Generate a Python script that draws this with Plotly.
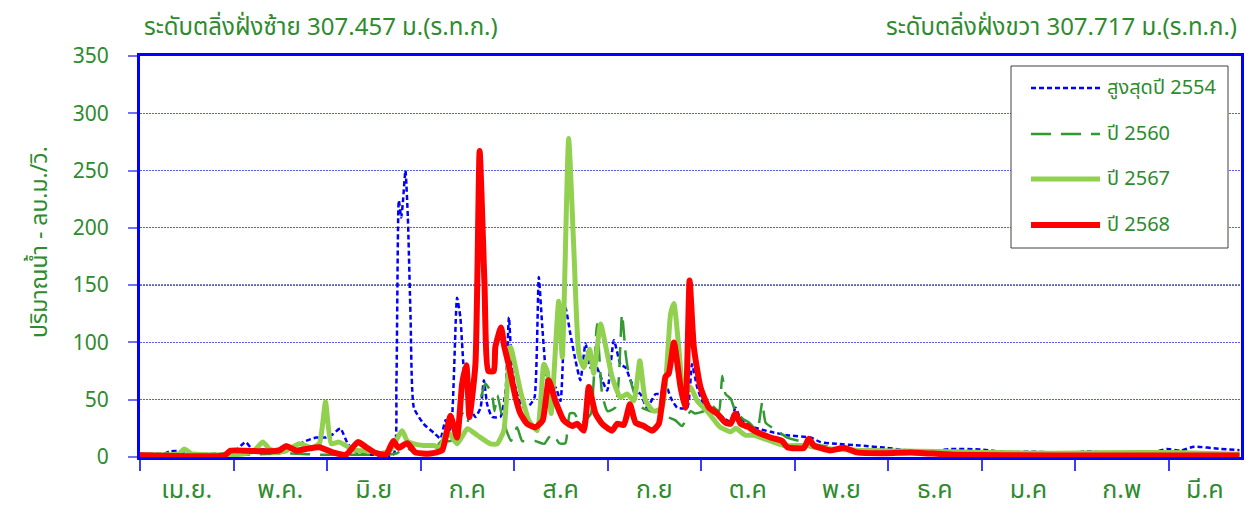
import plotly.graph_objects as go

# ---------------- data (day index from 1 April, flow m3/s) ----------------
months = ["เม.ย.", "พ.ค.", "มิ.ย", "ก.ค", "ส.ค", "ก.ย", "ต.ค", "พ.ย", "ธ.ค", "ม.ค", "ก.พ", "มี.ค"]
month_ticks = [0, 31, 62, 93, 124, 155, 186, 217, 248, 279, 310, 341]
yticks = [0, 50, 100, 150, 200, 250, 300, 350]

day_2554 = [0, 8, 10, 13, 15, 28, 31, 35, 37.5, 42, 46, 52, 55, 58.4, 61.7, 64, 66.4, 68.9, 71.7, 77, 84,
            85, 85.8, 86.6, 87.2, 88, 88.8, 89.7, 90.8, 94, 97.9, 99.6, 101.3, 103, 105.1, 106.2, 107.3, 109,
            111.2, 112.9, 114, 115.1, 116.7, 119.5, 121.2, 122.3, 123.4, 125, 127.2, 129.4, 130.8, 132.2,
            133.3, 134.4, 135.5, 137.7, 139.4, 141, 142.7, 144.4, 146, 147.7, 149.3, 150.4, 153.2, 154.9,
            157.1, 159.3, 161, 162.6, 164.3, 165.9, 168.1, 170.9, 172.5, 174.2, 175.9, 178.1, 181.4, 183,
            184.7, 186.9, 190.2, 193.5, 195.7, 197.4, 199, 203.5, 209, 214.6, 222.3, 225.6, 231, 238.8,
            247.7, 254.3, 261, 268.7, 278.7, 286.5, 297.5, 308.6, 314.1, 325, 334, 340.5, 345, 349.4,
            358.2, 364.5]
q_2554 = [3, 3, 5, 5, 3, 3, 4, 13, 6, 7, 7, 10, 14, 17, 17, 20, 25, 11.5, 4, 2, 2,
          64, 224, 209, 224, 250, 209, 122, 43, 29, 20, 16, 32, 23, 139, 122, 78, 46,
          35, 43, 67, 46, 35, 35, 58, 122, 75, 55, 43, 46, 52, 157,
          116, 78, 58, 61, 49, 131, 107, 84, 67, 99, 78, 84, 67, 58,
          102, 81, 78, 67, 58, 55, 43, 55, 55, 64, 52, 43, 43, 81,
          61, 46, 40, 34, 31, 43, 34, 26, 22, 19, 17, 13, 11.5, 10,
          8, 5.7, 4.5, 7, 6.5, 4.5, 4.5, 3.3, 5, 2.5, 3, 7, 5.5, 9,
          7, 6]

day_2560 = [0, 35, 50, 60, 80, 85, 88, 92, 97, 100, 103, 105.5, 107, 108.5, 110, 112.9, 114.5, 116.7,
            117.5, 118.5, 119.8, 121.5, 123, 125, 126.7, 131, 134, 135.5, 137, 139, 141, 142.5, 144, 146,
            148, 149.5, 151.5, 153.2, 155, 157.5, 158.7, 159.8, 161, 162, 164.3, 166.5, 169.2, 172, 174.8,
            177.5, 179.7, 182.5, 184, 186.9, 189.1, 191.9, 193, 194.1, 195.8, 197.4, 200, 202, 204.6,
            206.3, 207.4, 211.2, 214.6, 220, 225.6, 236.6, 258.7, 292, 325, 341.7, 364.5]
q_2560 = [1, 2, 3, 2, 2, 3, 8, 3, 5, 14, 14, 30, 38, 30, 46, 52, 64, 55,
          40, 54, 38, 23, 14, 26, 14, 14, 11.5, 17, 20, 12, 12, 38, 38, 29,
          33, 38, 116, 55, 40, 43, 67, 125, 90, 73, 52, 43, 40, 40, 35,
          32, 27, 40, 38, 40, 46, 40, 71, 55, 51, 40, 33, 30, 23,
          48, 30, 23, 17, 13, 10, 7, 5, 4, 3, 5, 2]

day_2567 = [0, 10, 13, 14.7, 17, 25, 31, 35, 38, 40.7, 44, 48, 52.8, 57, 59.5, 61.5, 63.4, 66, 71, 76.5,
            79.7, 83, 86.9, 88.6, 90.8, 94, 97.4, 99.6, 101.8, 105.1, 108.5, 111.8, 116.2, 118.4, 120.6,
            122.8, 126.1, 128.9, 131.7, 133.9, 135, 136.3, 138.8, 140, 142.1, 143.8, 145.5, 147.1, 149.1,
            150.4, 152.7, 154.9, 156.5, 159.3, 161.5, 163.7, 165.7, 167.6, 170.3, 173.1, 175.9, 177, 178.6,
            180.3, 182.5, 184.7, 188, 191.3, 192.4, 195.8, 197.5, 200.7, 203.5, 213.4, 221, 224.5, 236.6,
            258.7, 280.9, 303, 330.6, 341.7, 364.5]
q_2567 = [2, 2, 3, 7, 3, 2, 2, 3, 6, 13, 4, 5, 11.5, 8, 12, 48, 11.5, 13, 6, 5,
          3, 6, 23, 14, 11.5, 10, 10, 8.5, 23, 11.5, 24.6, 19, 11.5, 11.5, 23,
          96, 58, 32, 23, 81, 75, 38, 136, 87, 278, 183, 90, 78, 94,
          73, 116, 90, 70, 52, 55, 49, 84, 49, 40, 43, 125, 134, 96,
          55, 61, 49, 40, 29, 26, 22, 25, 19, 19, 10, 10, 8, 6,
          5, 4, 3.3, 4, 4, 2.5]

day_2568 = [0, 28, 30, 40, 46, 48.4, 51.8, 55, 59.5, 63.9, 68.3, 72.2, 75, 77.7, 81.6, 84, 85.7, 88.6, 91.3,
            96.3, 100.2, 102.9, 105.1, 106.8, 108.2, 109.2, 111.2, 112.6, 114.2, 115.5, 117.3, 117.8, 119.7,
            120.8, 122.2, 124.5, 126.1, 128.3, 131.1, 133.5, 135.5, 137.7, 140.5, 143.3, 144.9, 147.1, 148.8,
            151, 153.2, 156.5, 158.2, 160.4, 162.4, 164.3, 167, 169.8, 172, 174.2, 175.3, 177, 179.2, 180.8,
            182.2, 183.6, 185.8, 188.6, 191.3, 194.1, 195.8, 197.4, 199.1, 201.8, 203.5, 209, 212.9, 214.6,
            220.1, 221.7, 223.4, 228.9, 233.3, 237.8, 247.7, 255.4, 269.7, 302.8, 364.5]
q_2568 = [1.5, 1.5, 5.5, 5, 5.5, 9.5, 5.7, 7, 8.5, 4, 2, 13, 8.5, 4, 2, 14, 8, 12, 4,
          3, 6, 36, 17, 64, 80, 35, 81, 267, 151, 75, 75, 96, 113,
          96, 81, 52, 38, 29, 26, 32, 67, 49, 32, 27, 29, 23, 61,
          38, 29, 23, 29, 28, 46, 30, 27, 23, 29, 70, 73, 100, 61, 43,
          154, 96, 61, 43, 38, 30, 29, 38, 29, 26, 23, 17, 14, 8.5,
          8, 16, 10, 5.7, 8, 4, 3.3, 4, 2, 1.3, 1.3]

names = ["สูงสุดปี 2554", "ปี 2560", "ปี 2567", "ปี 2568"]
title_left = "ระดับตลิ่งฝั่งซ้าย 307.457 ม.(ร.ท.ก.)"
title_right = "ระดับตลิ่งฝั่งขวา 307.717 ม.(ร.ท.ก.)"
ytitle = "ปริมาณน้ำ - ลบ.ม./วิ."

# ---------------- styling ----------------
FONT = "Tahoma, 'Noto Sans Thai', 'Noto Sans Thai UI', 'Leelawadee UI', 'Noto Sans', sans-serif"
GREEN_TXT = "#2E8B2E"
styles = [
    dict(color="#0000FF", width=2.5, dash="5px,3px"),
    dict(color="#339933", width=2.5, dash="20px,10px"),
    dict(color="#92D050", width=5, dash="solid"),
    dict(color="#FF0000", width=6, dash="solid"),
]
series = [(day_2554, q_2554), (day_2560, q_2560), (day_2567, q_2567), (day_2568, q_2568)]

W, H = 1247, 510
L, R, T, B = 140, 6, 56, 53
pw, ph = W - L - R, H - T - B


def px(xp):
    return (xp - L) / pw


def py(yp):
    return (H - B - yp) / ph


fig = go.Figure()
for (d, q), nm, st in zip(series, names, styles):
    fig.add_trace(go.Scatter(x=d, y=q, mode="lines", name=nm,
                             line=dict(**st, shape="spline", smoothing=0.5),
                             showlegend=False, hoverinfo="x+y+name"))

centers = [(month_ticks[i] + (month_ticks[i + 1] if i + 1 < len(month_ticks) else 365)) / 2
           for i in range(len(month_ticks))]

fig.update_layout(
    width=W, height=H, autosize=False,
    margin=dict(l=L, r=R, t=T, b=B),
    paper_bgcolor="white", plot_bgcolor="white",
    font=dict(family=FONT, color=GREEN_TXT, size=18),
    showlegend=False,
    xaxis=dict(range=[0, 365], tickvals=centers, ticktext=months, ticks="",
               tickfont=dict(size=25, color=GREEN_TXT, family=FONT),
               showgrid=False, zeroline=False, automargin=False,
               showline=True, linecolor="#0000FF", linewidth=3, mirror=True,
               layer="below traces", ticklabelstandoff=8,
               minor=dict(tickvals=month_ticks, ticks="outside", ticklen=11, tickcolor="#3B3BFF",
                          tickwidth=1.5, showgrid=False)),
    yaxis=dict(range=[0, 350], tickvals=yticks, ticks="outside", ticklen=9, tickcolor="#7070FF",
               tickwidth=1.5, tickfont=dict(size=21, color=GREEN_TXT, family=FONT),
               showgrid=True, gridcolor="#5A5AFF", gridwidth=1.4, griddash="2px,1px",
               zeroline=False, showline=True, linecolor="#0000FF", linewidth=3, mirror=True,
               automargin=False, layer="below traces", ticklabelstandoff=15),
)

# dark reference line at 150
fig.add_shape(type="line", xref="paper", yref="y", x0=0, x1=1, y0=150, y1=150,
              line=dict(color="#000080", width=1.4, dash="2px,1px"), layer="below")

# titles
fig.add_annotation(text=title_left, xref="paper", yref="paper", x=px(142), y=py(28),
                   xanchor="left", yanchor="middle", showarrow=False,
                   font=dict(size=24, color=GREEN_TXT, family=FONT))
fig.add_annotation(text=title_right, xref="paper", yref="paper", x=px(1239), y=py(28),
                   xanchor="right", yanchor="middle", showarrow=False,
                   font=dict(size=24, color=GREEN_TXT, family=FONT))
fig.add_annotation(text=ytitle, xref="paper", yref="paper", x=px(40), y=py(242),
                   xanchor="center", yanchor="middle", textangle=-90, showarrow=False,
                   font=dict(size=23, color=GREEN_TXT, family=FONT))

# legend box
fig.add_shape(type="rect", xref="paper", yref="paper", x0=px(1011), x1=px(1228), y0=py(248), y1=py(66),
              line=dict(color="#404040", width=1), fillcolor="white", layer="above")
row_y = [88, 134, 179, 225]
for nm, st, ry in zip(names, styles, row_y):
    fig.add_shape(type="line", xref="paper", yref="paper", x0=px(1031), x1=px(1100), y0=py(ry), y1=py(ry),
                  line=dict(color=st["color"], width=st["width"], dash=st["dash"]), layer="above")
    fig.add_annotation(text=nm, xref="paper", yref="paper", x=px(1105), y=py(ry),
                       xanchor="left", yanchor="middle", showarrow=False,
                       font=dict(size=20, color=GREEN_TXT, family=FONT))

fig.write_html("out.html", config={"displayModeBar": False},
               post_script="document.body.style.margin='0';document.body.style.overflow='hidden';")
